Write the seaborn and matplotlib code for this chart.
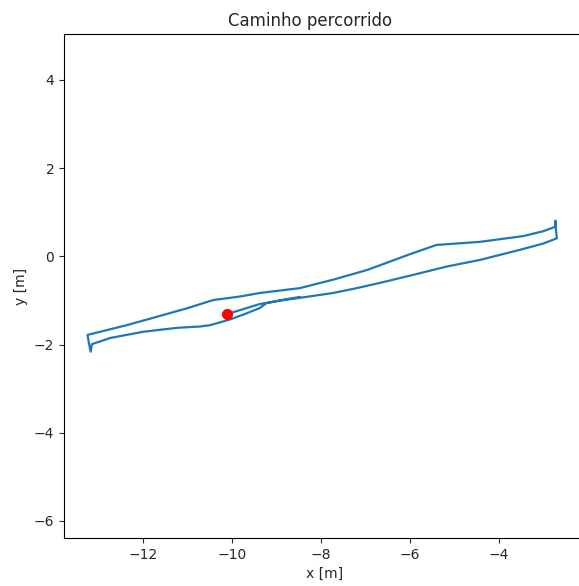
import matplotlib
matplotlib.use("Agg")
import matplotlib.pyplot as plt
import seaborn as sns
import pandas as pd

# Path (metres), in travel order
path_x = [-10.13, -9.83, -9.38, -8.90, -8.48, -7.73, -7.20, -6.67, -5.93, -5.17, -4.42, -3.52, -3.00, -2.69,
          -2.71, -2.72, -2.73,
          -3.00, -3.45, -3.90, -4.42, -5.40, -6.00, -6.67, -6.97, -7.70, -8.48, -9.38, -9.83, -10.43,
          -11.03, -11.63, -12.38, -13.26,
          -13.23, -13.19, -13.16,
          -12.75, -12.01, -11.25, -10.73, -10.50, -10.05, -9.70, -9.38, -9.23, -8.90, -8.48]
path_y = [-1.31, -1.22, -1.08, -1.00, -0.94, -0.83, -0.72, -0.60, -0.42, -0.23, -0.08, 0.15, 0.29, 0.41,
          0.60, 0.81, 0.67,
          0.57, 0.46, 0.40, 0.33, 0.26, 0.05, -0.20, -0.31, -0.52, -0.72, -0.83, -0.91, -0.99,
          -1.18, -1.35, -1.56, -1.78,
          -1.96, -2.16, -1.99,
          -1.85, -1.71, -1.62, -1.59, -1.56, -1.43, -1.30, -1.17, -1.06, -0.99, -0.92]
start_x = [-10.13]
start_y = [-1.31]

df = pd.DataFrame({"x": path_x, "y": path_y})
start = pd.DataFrame({"x": start_x, "y": start_y})

sns.set_style("ticks")
plt.rcParams["font.family"] = ["DejaVu Sans"]

W, H = 579, 586
fig = plt.figure(figsize=(W / 100, H / 100), dpi=100)
left, right, top, bottom = 64, 590, 34, 538
ax = fig.add_axes([left / W, (H - bottom) / H, (right - left) / W, (bottom - top) / H])

sns.lineplot(data=df, x="x", y="y", sort=False, estimator=None, ax=ax,
             color="#1f77b4", linewidth=1.6)
ax.plot(start["x"], start["y"], "o", color="red", markersize=7)

ax.set_xlim(-13.79, -13.79 + (right - left) / 44.4)
ax.set_ylim((256.4 - bottom) / 44.1, (256.4 - top) / 44.1)
ax.set_xticks([-12, -10, -8, -6, -4])
ax.set_yticks([-6, -4, -2, 0, 2, 4])
ax.set_title("Caminho percorrido", fontsize=12, x=(310 - left) / (right - left))
ax.set_xlabel("x [m]", fontsize=10)
ax.set_ylabel("y [m]", fontsize=10)
ax.xaxis.label.set_x((325 - left) / (right - left))
ax.tick_params(labelsize=10)
for s in ax.spines.values():
    s.set_color("black")
    s.set_linewidth(0.8)

fig.savefig("out.png", dpi=100)
